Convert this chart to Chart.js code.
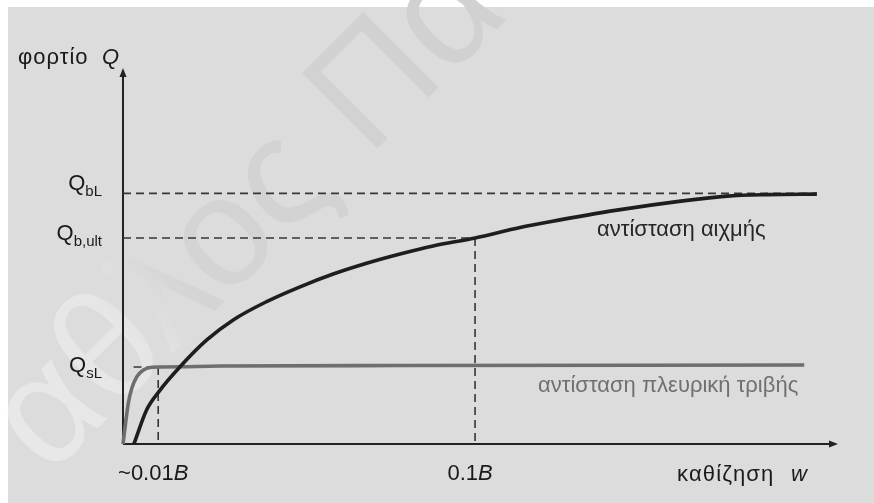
<!DOCTYPE html>
<html>
<head>
<meta charset="utf-8">
<script src="https://cdn.jsdelivr.net/npm/chart.js@4.4.1/dist/chart.umd.min.js"></script>
<style>
  html, body { margin: 0; padding: 0; background: #ffffff; }
  canvas { display: block; }
</style>
</head>
<body>
<canvas id="c" width="874" height="503"></canvas>
<script>
// Settlement w in multiples of the pile width B, load Q normalised to Q_bL = 1.
const tipW  = [0.0031, 0.0067, 0.0102, 0.0162, 0.0238, 0.0313, 0.0408, 0.0503, 0.0597, 0.0692,
               0.0787, 0.0881, 0.1000, 0.1128, 0.1213, 0.1403, 0.1590, 0.1715, 0.1829, 0.1971];
const tipQ  = [0.000, 0.136, 0.209, 0.308, 0.415, 0.495, 0.568, 0.627, 0.678, 0.721,
               0.758, 0.790, 0.822, 0.864, 0.887, 0.933, 0.970, 0.989, 0.995, 0.997];
const sideW = [0.0000, 0.0006, 0.0015, 0.0025, 0.0039, 0.0058, 0.0082, 0.0105, 0.0162, 0.0276, 0.0787, 0.1935];
const sideQ = [0.000, 0.069, 0.162, 0.222, 0.268, 0.295, 0.306, 0.307, 0.308, 0.311, 0.313, 0.315];

// Characteristic settlements (x ticks) and loads (y ticks)
const xTickValues = [0.01, 0.1];
const xTickLabels = ['~0.01', '0.1'];
const yTickValues = [0.307, 0.822, 1.0];
const yTickSubs   = ['sL', 'b,ult', 'bL'];
// where each horizontal guide starts and stops along w
const hGuideFrom  = [0.003, 0, 0];
const hGuideTo    = [0.01, 0.1, 0.1971];
// height each vertical guide reaches
const vGuideTop   = [0.307, 0.822];

const seriesNames = ['αντίσταση αιχμής', 'αντίσταση πλευρική τριβής'];

const FONT = "'Liberation Sans', Arial, Helvetica, sans-serif";
// vertical nudge of each Q label relative to its guide line (px)
const qLabelShift = [5, 2, -3];

const toPoints = (xs, ys) => xs.map((x, i) => ({ x: x, y: ys[i] }));

const datasets = [
  {
    label: seriesNames[0],
    data: toPoints(tipW, tipQ),
    borderColor: '#1e1e1e',
    borderWidth: 3.6,
    cubicInterpolationMode: 'monotone',
    clip: false
  },
  {
    label: seriesNames[1],
    data: toPoints(sideW, sideQ),
    borderColor: '#6e6e6e',
    borderWidth: 3.6,
    cubicInterpolationMode: 'monotone',
    clip: false
  }
];
yTickValues.forEach((q, i) => {
  datasets.push({
    label: 'Q' + yTickSubs[i],
    data: [{ x: hGuideFrom[i], y: q }, { x: hGuideTo[i], y: q }],
    borderColor: '#363636',
    borderWidth: 1.6,
    borderDash: [8, 5],
    clip: false
  });
});
xTickValues.forEach((w, i) => {
  datasets.push({
    label: xTickLabels[i] + 'B',
    data: [{ x: w, y: vGuideTop[i] }, { x: w, y: 0 }],
    borderColor: '#363636',
    borderWidth: 1.6,
    borderDash: [8, 5],
    clip: false
  });
});

// gray panel and faint diagonal watermark
const backdrop = {
  id: 'backdrop',
  beforeDraw(chart) {
    const ctx = chart.ctx;
    ctx.save();
    ctx.fillStyle = '#ffffff';
    ctx.fillRect(0, 0, chart.width, chart.height);
    ctx.fillStyle = '#dcdcdc';
    ctx.fillRect(8, 7, chart.width - 8, chart.height - 7);

    ctx.translate(49, 477);
    ctx.rotate(-Math.PI / 4);
    ctx.font = '155px ' + FONT;
    ctx.textBaseline = 'alphabetic';
    const g = ctx.createLinearGradient(0, 0, 560, 0);
    g.addColorStop(0, '#e8e8e8');
    g.addColorStop(0.28, '#e6e6e6');
    g.addColorStop(0.42, '#d4d4d4');
    g.addColorStop(1, '#d1d1d1');
    ctx.fillStyle = g;
    ctx.fillText('αθλος Πα', 0, 0);
    ctx.restore();
  }
};

// axes with arrow heads
const arrowAxes = {
  id: 'arrowAxes',
  beforeDatasetsDraw(chart) {
    const ctx = chart.ctx;
    const xs = chart.scales.x, ys = chart.scales.y;
    const x0 = xs.getPixelForValue(0), y0 = ys.getPixelForValue(0);
    const xEnd = xs.getPixelForValue(xs.max), yEnd = ys.getPixelForValue(ys.max);
    ctx.save();
    ctx.strokeStyle = '#222222';
    ctx.fillStyle = '#222222';
    ctx.lineWidth = 2;
    ctx.beginPath();
    ctx.moveTo(x0, y0); ctx.lineTo(xEnd - 6, y0);
    ctx.moveTo(x0, y0); ctx.lineTo(x0, yEnd + 6);
    ctx.stroke();
    ctx.beginPath();
    ctx.moveTo(xEnd, y0); ctx.lineTo(xEnd - 9, y0 - 3.5); ctx.lineTo(xEnd - 9, y0 + 3.5); ctx.closePath();
    ctx.fill();
    ctx.beginPath();
    ctx.moveTo(x0, yEnd); ctx.lineTo(x0 - 3.5, yEnd + 9); ctx.lineTo(x0 + 3.5, yEnd + 9); ctx.closePath();
    ctx.fill();
    ctx.restore();
  }
};

// tick labels, axis titles and curve names
const annotations = {
  id: 'annotations',
  afterDraw(chart) {
    const ctx = chart.ctx;
    const xs = chart.scales.x, ys = chart.scales.y;
    const x0 = xs.getPixelForValue(0);
    const y0 = ys.getPixelForValue(0);
    ctx.save();
    ctx.textBaseline = 'alphabetic';
    ctx.textAlign = 'left';
    ctx.fillStyle = '#1a1a1a';

    // y axis title
    ctx.font = '22px ' + FONT;
    ctx.letterSpacing = '1px';
    const t1 = 'φορτίο';
    ctx.fillText(t1, 18, 64);
    ctx.letterSpacing = '0px';
    ctx.font = 'italic 22px ' + FONT;
    ctx.fillText('Q', 102, 64);

    // y tick labels Q with subscripts, right aligned
    const right = x0 - 21;
    yTickValues.forEach((q, i) => {
      const py = ys.getPixelForValue(q) + qLabelShift[i];
      ctx.font = '15px ' + FONT;
      const ws = ctx.measureText(yTickSubs[i]).width;
      ctx.fillText(yTickSubs[i], right - ws, py + 6);
      ctx.font = '22px ' + FONT;
      const wq = ctx.measureText('Q').width;
      ctx.fillText('Q', right - ws - wq, py);
    });

    // x tick labels with italic B
    xTickValues.forEach((w, i) => {
      const px = xs.getPixelForValue(w) - 5;
      ctx.font = '22px ' + FONT;
      const wn = ctx.measureText(xTickLabels[i]).width;
      ctx.font = 'italic 22px ' + FONT;
      const wb = ctx.measureText('B').width;
      const start = px - (wn + wb) / 2;
      ctx.font = '22px ' + FONT;
      ctx.fillText(xTickLabels[i], start, y0 + 36);
      ctx.font = 'italic 22px ' + FONT;
      ctx.fillText('B', start + wn, y0 + 36);
    });

    // x axis title
    ctx.font = '22px ' + FONT;
    ctx.letterSpacing = '1.2px';
    ctx.fillText('καθίζηση', 677, y0 + 37);
    ctx.letterSpacing = '0px';
    ctx.font = 'italic 22px ' + FONT;
    ctx.textAlign = 'right';
    ctx.fillText('w', 807, y0 + 37);

    // curve names
    ctx.font = '22px ' + FONT;
    ctx.textAlign = 'left';
    ctx.fillStyle = '#262626';
    ctx.fillText(seriesNames[0], 597, 236);
    ctx.fillStyle = '#707070';
    ctx.fillText(seriesNames[1], 538, 392);
    ctx.restore();
  }
};

new Chart(document.getElementById('c'), {
  type: 'line',
  data: { datasets: datasets },
  options: {
    responsive: false,
    animation: false,
    devicePixelRatio: 1,
    layout: { padding: { left: 123, right: 36, top: 68, bottom: 59 } },
    elements: { point: { radius: 0, hoverRadius: 0 }, line: { fill: false } },
    plugins: { legend: { display: false }, tooltip: { enabled: false }, title: { display: false } },
    scales: {
      x: { type: 'linear', min: 0, max: 0.2031, display: false },
      y: { type: 'linear', min: 0, max: 1.5, display: false }
    }
  },
  plugins: [backdrop, arrowAxes, annotations]
});
</script>
</body>
</html>
